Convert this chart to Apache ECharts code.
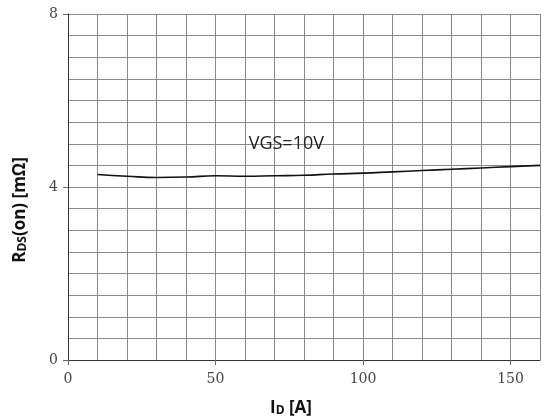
<!DOCTYPE html>
<html><head><meta charset="utf-8">
<script src="https://cdn.jsdelivr.net/npm/echarts@6/dist/echarts.min.js"></script>
<style>html,body{margin:0;padding:0;background:#fff}#c{width:545px;height:420px}</style>
</head><body><div id="c"></div>
<script>
var currentA = [10,20,30,40,50,60,70,80,90,100,110,120,130,140,150,160];
var rdsOn = [4.29,4.25,4.22,4.23,4.26,4.25,4.26,4.27,4.30,4.32,4.35,4.38,4.41,4.44,4.47,4.50];
var seriesLabel = 'VGS=10V';

var chart = echarts.init(document.getElementById('c'), null, {renderer:'canvas'});
var gridColor = '#8a8a8a';
chart.setOption({
  animation:false,
  grid:{left:68,right:5,top:14,bottom:60,containLabel:false,outerBoundsMode:'none'},
  xAxis:{
    type:'value',min:0,max:160,interval:50,
    name:'{b|I}{s|D}{b| [A]}',nameLocation:'middle',nameGap:40,
    nameTextStyle:{padding:[0,26,0,0],rich:{
      b:{fontFamily:'Open Sans',fontWeight:'bold',fontSize:17,color:'#111'},
      s:{fontFamily:'Open Sans',fontWeight:'bold',fontSize:12,color:'#111',verticalAlign:'bottom'}
    }},
    axisLine:{show:true,lineStyle:{color:'#333',width:1}},
    axisTick:{show:true,length:5,inside:false,lineStyle:{color:'#666'}},
    axisLabel:{fontFamily:'DejaVu Serif',fontSize:14,color:'#444',margin:12,showMaxLabel:false,
      formatter:function(v){return v%50===0?String(v):'';}},
    splitLine:{show:true,lineStyle:{color:gridColor,width:1}},
    minorTick:{show:false,splitNumber:5},
    minorSplitLine:{show:true,lineStyle:{color:gridColor,width:1}}
  },
  yAxis:{
    type:'value',min:0,max:8,interval:4,
    name:'{b|R}{s|DS}{b|(on) [mΩ]}',nameLocation:'middle',nameGap:39,nameRotate:90,
    nameTextStyle:{padding:[0,46,0,0],rich:{
      b:{fontFamily:'Open Sans',fontWeight:'bold',fontSize:17,color:'#111'},
      s:{fontFamily:'Open Sans',fontWeight:'bold',fontSize:12,color:'#111',verticalAlign:'bottom'}
    }},
    axisLine:{show:true,lineStyle:{color:'#333',width:1}},
    axisTick:{show:true,length:5,lineStyle:{color:'#666'}},
    axisLabel:{fontFamily:'DejaVu Serif',fontSize:14,color:'#444',margin:10},
    splitLine:{show:true,lineStyle:{color:gridColor,width:1}},
    minorTick:{show:false,splitNumber:8},
    minorSplitLine:{show:true,lineStyle:{color:gridColor,width:1}}
  },
  series:[{
    type:'line',name:seriesLabel,smooth:true,symbol:'none',
    data:currentA.map(function(x,i){return [x,rdsOn[i]];}),
    lineStyle:{color:'#111',width:1.6},
    markPoint:{symbol:'rect',symbolSize:1,itemStyle:{color:'rgba(0,0,0,0)'},
      data:[{coord:[74,5.0]}],
      label:{show:true,position:'inside',formatter:seriesLabel,fontFamily:'Open Sans',fontSize:18,color:'#222'}}
  }]
});
</script></body></html>
